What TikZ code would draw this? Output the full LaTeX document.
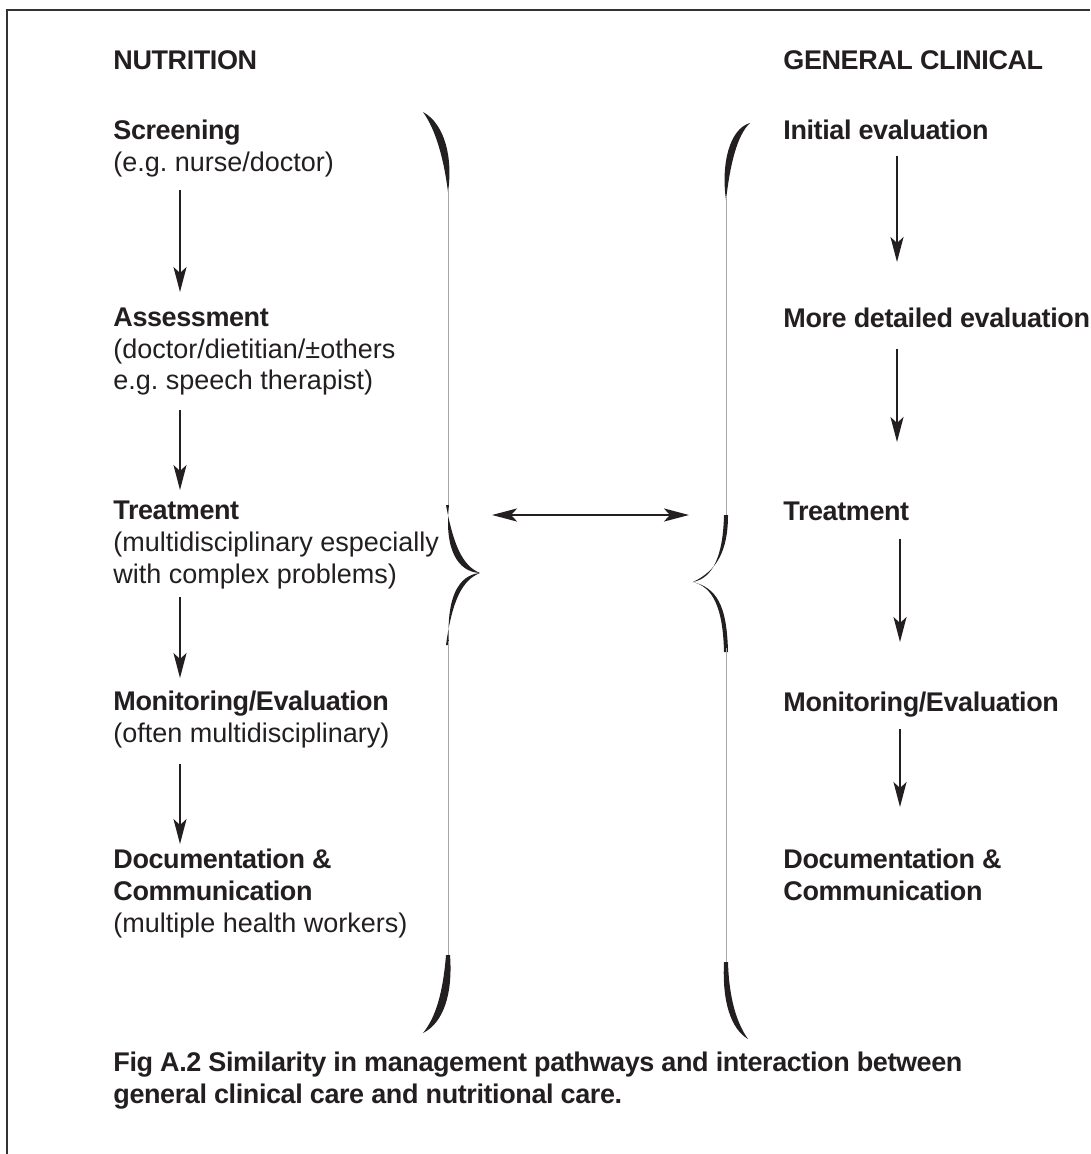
\documentclass[tikz,border=0pt]{standalone}
\usepackage{fontspec}
\setmainfont{Liberation Sans}[BoldFeatures={LetterSpace=-1.5}]
\usetikzlibrary{arrows.meta, calc}
\definecolor{ink}{HTML}{231F20}
\tikzset{>={Stealth[length=12.5pt, width=6.5pt, inset=3pt]}}
\frenchspacing

\begin{document}
\begin{tikzpicture}[x=0.5pt, y=-0.5pt, font=\fontsize{13.5pt}{16pt}\selectfont, text=ink,
  lbl/.style={anchor=base west, inner sep=0pt, align=left},
  flow/.style={->, draw=ink, line width=1pt},
  hook/.style={fill=ink, draw=none},
  guide/.style={draw=black!35, line width=0.5pt},
  frame/.style={draw=black!80, line width=0.8pt}]
\useasboundingbox (0,0) rectangle (1090,1154);
\draw[frame] (7,1154) -- (7,10) -- (1090,10);

% headings (base = last line)
\node[lbl] (nut) at (113,70) {\textbf{NUTRITION}};
\node[lbl] (gen) at (783,70) {\textbf{GENERAL CLINICAL}};

% nutrition pathway
\node[lbl] (scr) at (113,172) {\textbf{Screening}\\(e.g. nurse/doctor)};
\node[lbl] (asm) at (113,390) {\textbf{Assessment}\\(doctor/dietitian/±others\\e.g. speech therapist)};
\node[lbl] (trn) at (113,583) {\textbf{Treatment}\\(multidisciplinary especially\\with complex problems)};
\node[lbl] (mon) at (113,742) {\textbf{Monitoring/Evaluation}\\(often multidisciplinary)};
\node[lbl] (doc) at (113,932) {\textbf{Documentation \&}\\\textbf{Communication}\\(multiple health workers)};

% clinical pathway
\node[lbl] (ini) at (783,140) {\textbf{Initial evaluation}};
\node[lbl] (det) at (783,328) {\textbf{More detailed evaluation}};
\node[lbl] (trc) at (783,520) {\textbf{Treatment}};
\node[lbl] (moc) at (783,711) {\textbf{Monitoring/Evaluation}};
\node[lbl] (doq) at (783,900) {\textbf{Documentation \&}\\\textbf{Communication}};

% arrows
\draw[flow] ($(scr.south west)+(67,12)$) -- ($(asm.north west)+(67,-15)$);
\draw[flow] ($(asm.south west)+(67,14)$) -- ($(trn.north west)+(67,-10)$);
\draw[flow] ($(trn.south west)+(67,8)$) -- ($(mon.north west)+(67,-12)$);
\draw[flow] ($(mon.south west)+(67,16)$) -- ($(doc.north west)+(67,-4)$);
\draw[flow] ($(ini.south west)+(114,15)$) -- ($(det.north west)+(114,-46)$);
\draw[flow] ($(det.south west)+(114,20)$) -- ($(trc.north west)+(114,-59)$);
\draw[flow] ($(trc.south west)+(117,18)$) -- ($(moc.north west)+(117,-49)$);
\draw[flow] ($(moc.south west)+(117,12)$) -- ($(doq.north west)+(117,-41)$);

% left brace
\fill[hook] (423,112) .. controls (445,124) and (453,158) .. (448,192) .. controls (444,160) and (436,130) .. (423,112) -- cycle;
\draw[guide] (448,190) -- (448,507);
\fill[hook] (446,505) .. controls (453,543) and (462,566) .. (480,573) .. controls (458,572) and (444,550) .. (449,505) -- cycle;
\fill[hook] (480,573) .. controls (462,580) and (452,601) .. (446,645) -- (449,645) .. controls (446,598) and (458,575) .. (480,573) -- cycle;
\draw[guide] (448,641) -- (448,957);
\fill[hook] (450,955) .. controls (453,995) and (443,1023) .. (423,1033) .. controls (436,1017) and (443,992) .. (446,955) -- cycle;

% right brace
\fill[hook] (750,123) .. controls (729,129) and (721,165) .. (726,200) .. controls (730,165) and (737,135) .. (750,123) -- cycle;
\draw[guide] (726,198) -- (726,517);
\fill[hook] (724,515) .. controls (723,556) and (713,578) .. (693,582) .. controls (716,571) and (728,552) .. (728,515) -- cycle;
\fill[hook] (693,582) .. controls (713,587) and (723,608) .. (724,652) -- (728,652) .. controls (727,604) and (716,588) .. (693,582) -- cycle;
\draw[guide] (726,648) -- (726,964);
\fill[hook] (724,962) .. controls (722,1002) and (731,1029) .. (748,1039) .. controls (736,1022) and (729,997) .. (728,962) -- cycle;

% interaction
\coordinate (lb) at (479,515);
\coordinate (rb) at (694,515);
\draw[flow, <->, line width=1.3pt] ($(lb)+(13,0)$) -- ($(rb)+(-5,0)$);

% caption
\node[lbl] (cap) at (113,1103) {\textbf{Fig A.2 Similarity in management pathways and interaction between}\\\textbf{general clinical care and nutritional care.}};
\end{tikzpicture}
\end{document}
